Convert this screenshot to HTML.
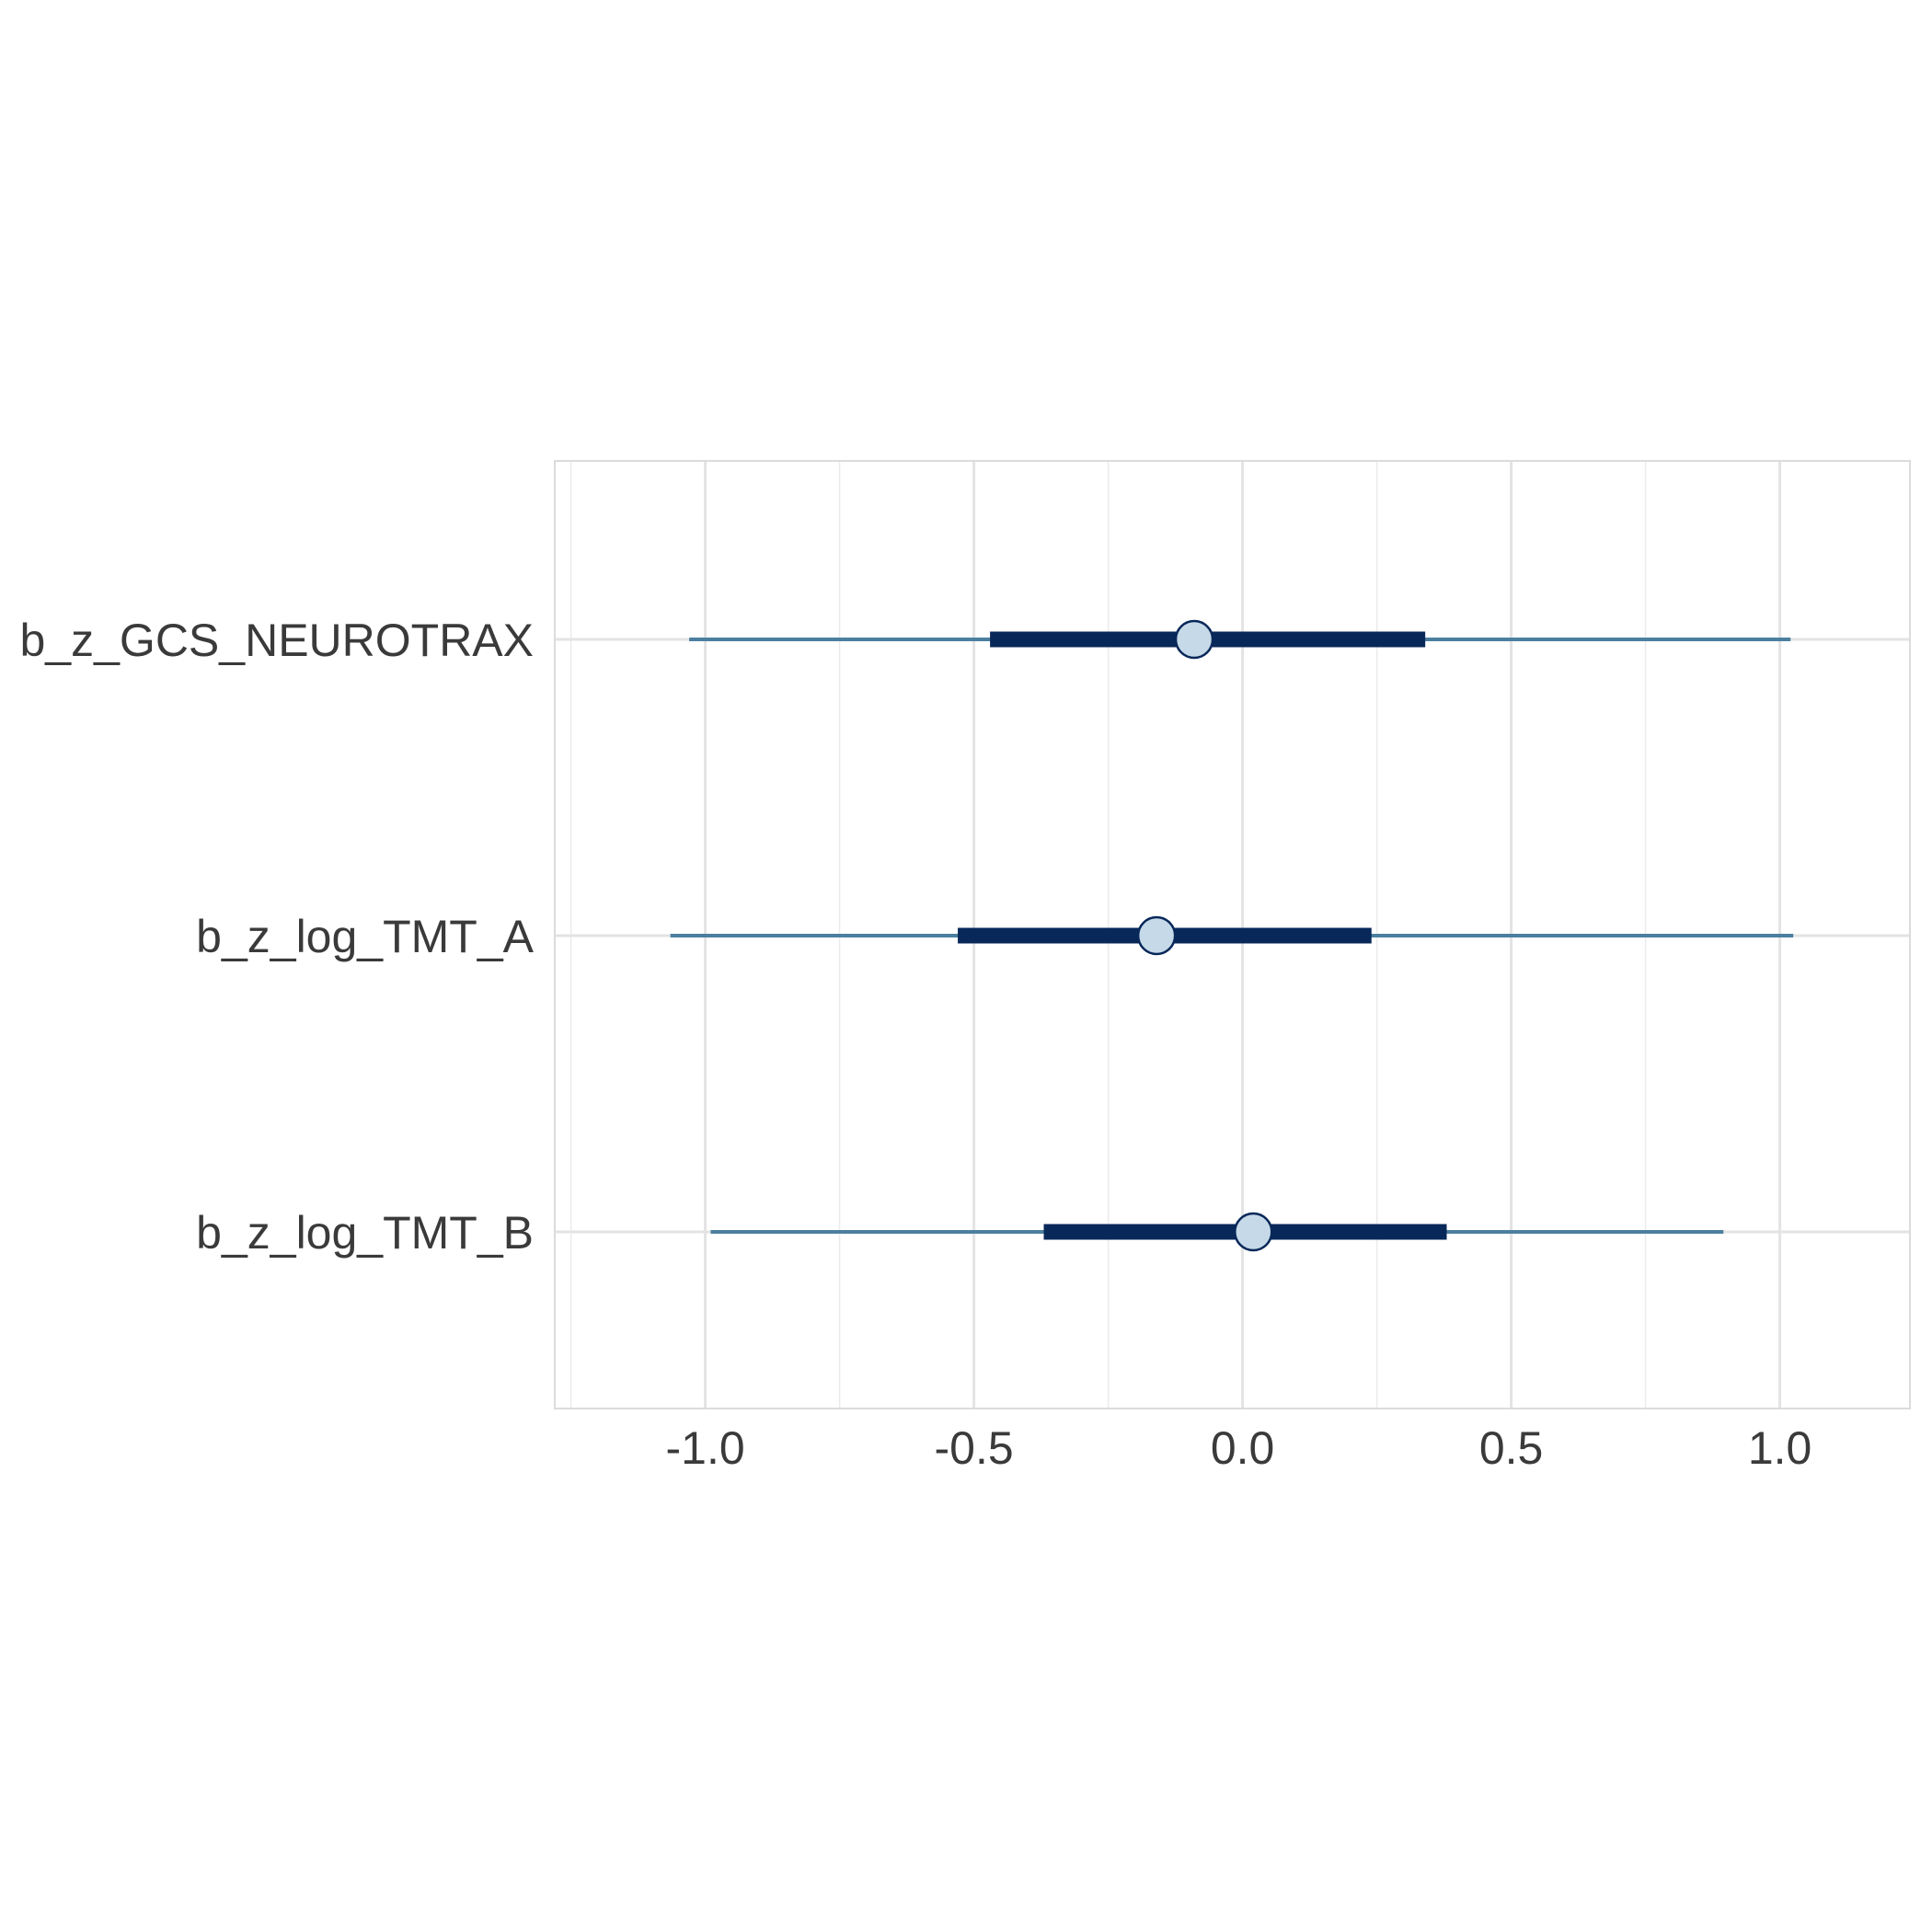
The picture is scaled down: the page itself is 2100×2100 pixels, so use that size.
<!DOCTYPE html>
<html><head><meta charset="utf-8"><style>
html,body{margin:0;padding:0;background:#fff;}
svg{display:block;}
text{font-family:"Liberation Sans",Arial,sans-serif;fill:#3a3a3a;}
</style></head><body>
<svg id="chart" width="2100" height="2100" viewBox="0 0 2100 2100" xmlns="http://www.w3.org/2000/svg"></svg>
<script>
const categories = ["b_z_GCS_NEUROTRAX","b_z_log_TMT_A","b_z_log_TMT_B"];
const outerLow = [-1.03,-1.065,-0.99];
const outerHigh = [1.02,1.025,0.895];
const innerLow = [-0.47,-0.53,-0.37];
const innerHigh = [0.34,0.24,0.38];
const pointEst = [-0.09,-0.16,0.02];
const majorTicks = [-1.0,-0.5,0.0,0.5,1.0];
const tickLabels = ["-1.0","-0.5","0.0","0.5","1.0"];
const minorTicks = [-1.25,-0.75,-0.25,0.25,0.75];

const NS="http://www.w3.org/2000/svg";
const svg=document.getElementById('chart');
const L=603,R=2076,T=501,B=1531;
const x=v=>1350.6+v*584;
const y=i=>695+i*322;
function mk(tag,attrs,parent){const e=document.createElementNS(NS,tag);for(const k in attrs)e.setAttribute(k,attrs[k]);(parent||svg).appendChild(e);return e;}

const grid=mk('g',{});


minorTicks.forEach(v=>{const l=mk('line',{x1:x(v),x2:x(v),y1:T,y2:B,stroke:'#ebebeb','stroke-width':1.5},grid);

});
majorTicks.forEach((v,i)=>{const l=mk('line',{x1:x(v),x2:x(v),y1:T,y2:B,stroke:'#e3e3e3','stroke-width':3},grid);


const t=mk('text',{x:x(v),y:1591,'text-anchor':'middle','font-size':50});
t.textContent=tickLabels[i];

});
categories.forEach((c,i)=>{const l=mk('line',{x1:L,x2:R,y1:y(i),y2:y(i),stroke:'#e3e3e3','stroke-width':3},grid);


const t=mk('text',{x:580,y:y(i)+18,'text-anchor':'end','font-size':50});
t.textContent=c;

});
const frame=mk('rect',{x:L,y:T,width:R-L,height:B-T,fill:'none',stroke:'#dcdcdc','stroke-width':2});



categories.forEach((c,i)=>{
const g=mk('g',{});


const o=mk('line',{x1:x(outerLow[i]),x2:x(outerHigh[i]),y1:y(i),y2:y(i),stroke:'#4b7fa0','stroke-width':4},g);


const n=mk('line',{x1:x(innerLow[i]),x2:x(innerHigh[i]),y1:y(i),y2:y(i),stroke:'#08285a','stroke-width':17},g);


const p=mk('circle',{cx:x(pointEst[i]),cy:y(i),r:20,fill:'#c6d9e8',stroke:'#08285a','stroke-width':2.5},g);


});
</script>
</body></html>
